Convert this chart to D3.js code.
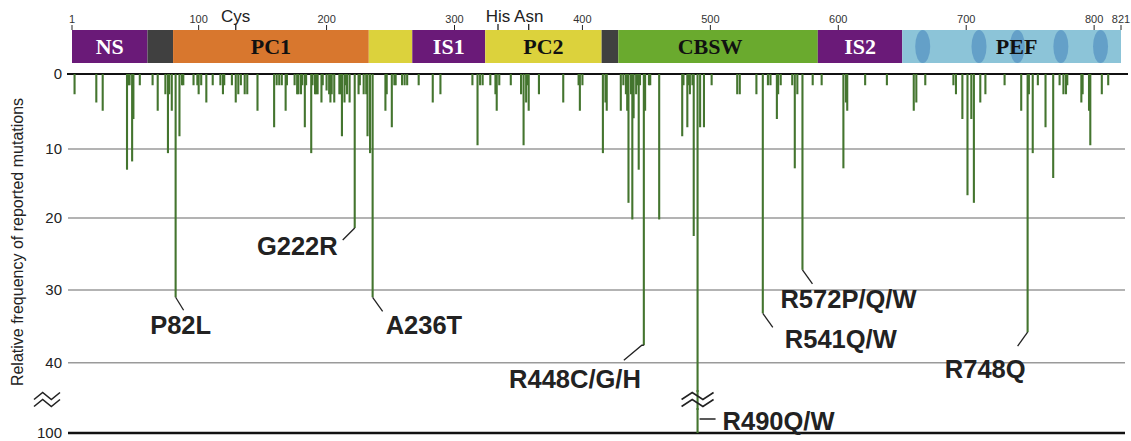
<!DOCTYPE html>
<html><head><meta charset="utf-8">
<script src="https://cdn.jsdelivr.net/npm/d3@7"></script>
<style>body{margin:0;background:#fff}svg{display:block}</style>
</head><body>
<svg id="c" width="1131" height="441"></svg>
<script>
// ---------- data ----------
const domainNames  = ["NS","","PC1","","IS1","PC2","","CBSW","IS2","PEF"];
const domainStart  = [1, 60, 80, 233, 267, 324, 415, 428, 584, 650];
const domainEnd    = [60, 80, 233, 267, 324, 415, 428, 584, 650, 821];
const domainKinds  = ["purple","gray","orange","yellow","purple","yellow","gray","green","purple","blue"];
const efHands      = [666, 710, 740, 774, 805];
const residueTicks = [1,100,200,300,400,500,600,700,800,821];
const siteNames    = ["Cys","His","Asn"];
const sitePos      = [129, 334, 358];
const yTickLabels  = [0,10,20,30,40,100];

const mutPos = [3,20,25,44,45,46,48,49,54,64,68,74,76,77,79,82,85,87,88,96,99,100,102,106,111,117,119,120,126,129,131,133,136,138,146,159,161,163,165,168,169,175,177,178,180,181,183,184,188,189,191,192,193,196,197,200,
  202,203,204,206,210,211,212,214,215,216,218,222,225,226,229,231,232,234,236,
  246,247,251,253,254,259,261,263,272,283,289,314,318,320,322,328,332,333,335,344,352,354,356,357,358,366,385,397,398,400,
  416,418,419,430,432,434,435,436,438,439,440,442,443,444,445,448,449,452,453,460,
  478,479,482,483,484,486,487,490,492,495,501,521,523,536,541,545,547,552,553,555,564,566,568,572,580,587,604,606,607,
  621,638,659,661,668,690,692,697,701,704,706,711,715,730,743,748,749,752,756,762,768,773,776,778,779,790,791,796,797,806,811];
const mutVal = [2.7,3.8,4.9,13.0,1.5,1.5,11.8,6.0,1.5,1.5,4.9,2.7,10.6,2.7,4.9,31,8.3,1.5,1.5,1.5,1.5,2.7,1.5,3.8,1.5,1.5,2.7,1.5,1.5,3.8,2.7,1.5,2.7,2.7,4.9,7.1,1.5,1.5,1.5,4.9,1.5,1.5,2.7,2.7,2.7,1.5,7.1,1.5,10.6,1.5,2.7,2.7,2.7,3.8,1.5,2.2,
  2.7,3.8,2.7,3.8,2.7,2.7,8.3,3.8,1.5,2.7,3.8,21.4,2.7,1.5,2.7,2.7,8.3,10.6,31,
  4.9,2.7,7.1,1.5,1.5,1.5,1.5,1.5,1.5,3.8,2.7,1.5,9.5,1.5,1.5,1.5,2.7,4.9,1.5,1.5,2.7,9.5,3.8,1.5,4.9,2.7,3.8,1.5,4.9,1.5,
  10.6,3.8,4.9,4.9,1.5,2.7,4.9,17.8,2.7,20.2,5.9,2.7,1.5,13.0,1.5,37.6,4.9,1.5,1.5,20.2,
  8.3,1.5,7.1,1.5,2.7,1.5,22.5,100,7.1,7.1,1.5,2.7,2.7,2.7,33.2,1.5,1.5,6.0,2.7,1.5,1.5,12.8,2.7,27.2,1.5,1.5,12.8,3.8,4.9,
  1.5,1.5,4.9,3.8,1.5,1.5,2.7,6.0,16.7,6.0,17.8,3.8,2.7,1.5,4.9,35.8,2.7,10.6,1.5,7.1,14.2,1.5,2.7,2.7,1.5,3.8,2.7,4.9,9.5,2.7,1.5];

const annoLabels = ["P82L","G222R","A236T","R448C/G/H","R490Q/W","R541Q/W","R572P/Q/W","R748Q"];
const annoPos    = [82,222,236,448,490,541,572,748];
const annoVal    = [31,21.4,31,37.6,100,33.2,27.2,35.8];

// ---------- layout / style (not data) ----------
const colors = {purple:"#6a1a78", gray:"#404040", orange:"#d8772e", yellow:"#dcd23c", green:"#6aaa2e", blue:"#8cc4d8"};
const labelColor = {NS:"#fff", IS1:"#fff", IS2:"#fff", PC1:"#111", PC2:"#111", CBSW:"#111", PEF:"#111"};
const labelDx = {CBSW:-8, PEF:5};
const annoLayout = [
  {leader:[[8,13]], lab:[5,37], anchor:"middle"},
  {leader:[[-12,12]], lab:[-17,27], anchor:"end"},
  {leader:[[10,14]], lab:[13,37], anchor:"start"},
  {leader:[[-2,0],[-20,15]], lab:[-3,43], anchor:"end"},
  {leader:null, lab:[25,-3], anchor:"start"},
  {leader:[[10,14]], lab:[22,35], anchor:"start"},
  {leader:[[10,14]], lab:[-22,38], anchor:"start"},
  {leader:[[-10,14]], lab:[-2,46], anchor:"end"}
];

const svg = d3.select("#c");
const x = d3.scaleLinear().domain([1,821]).range([72,1121]);
const y = d3.scaleLinear().domain([0,10,20,30,40,100]).range([74,149,218,290,362.7,433]);
const barTop = 30, barH = 33;

// domain bar
svg.append("g").selectAll("rect").data(domainStart).join("rect")
  .attr("x", (d)=>x(d)).attr("y", barTop)
  .attr("width", (d,i)=>x(domainEnd[i])-x(d)).attr("height", barH)
  .attr("fill", (d,i)=>colors[domainKinds[i]]);
svg.append("g").selectAll("ellipse").data(efHands).join("ellipse")
  .attr("cx", d=>x(d)).attr("cy", barTop+barH/2).attr("rx", 7.5).attr("ry", barH/2)
  .attr("fill", "#5d9ac6").attr("opacity", 0.85);
svg.append("g").selectAll("text").data(domainNames).join("text")
  .filter(d=>d!=="")
  .attr("x", function(d){const i=domainNames.indexOf(d);return (x(domainStart[i])+x(domainEnd[i]))/2+(labelDx[d]||0);})
  .attr("y", barTop+barH/2+7.5)
  .attr("text-anchor","middle")
  .attr("font-family","'Liberation Serif','Times New Roman',serif")
  .attr("font-weight","bold").attr("font-size",22)
  .attr("fill", d=>labelColor[d]).text(d=>d);

// residue ticks
const gt = svg.append("g");
gt.selectAll("line.rt").data(residueTicks).join("line").attr("class","rt")
  .attr("x1",d=>x(d)).attr("x2",d=>x(d)).attr("y1",barTop-5).attr("y2",barTop)
  .attr("stroke","#222").attr("stroke-width",1);
gt.selectAll("text.rt").data(residueTicks).join("text").attr("class","rt")
  .attr("x",d=>x(d)).attr("y",barTop-7)
  .attr("text-anchor","middle").attr("font-family","'Liberation Sans',Arial,sans-serif")
  .attr("font-size",11).attr("fill","#333")
  .text(d=>d);
gt.selectAll("line.st").data(sitePos).join("line").attr("class","st")
  .attr("x1",d=>x(d)).attr("x2",d=>x(d)).attr("y1",barTop-6).attr("y2",barTop)
  .attr("stroke","#222").attr("stroke-width",1.3);
gt.selectAll("text.st").data(siteNames).join("text").attr("class","st")
  .attr("x",(d,i)=>x(sitePos[i])).attr("y",barTop-8)
  .attr("text-anchor","middle").attr("font-family","'Liberation Sans',Arial,sans-serif")
  .attr("font-size",17).attr("fill","#222").text(d=>d);

// gridlines & y labels
const gy = svg.append("g");
gy.selectAll("line").data(yTickLabels).join("line")
  .attr("x1",d=>d===0?67:68).attr("x2",d=>d===0?1128:1125)
  .attr("y1",d=>y(d)).attr("y2",d=>y(d))
  .attr("stroke",d=>(d===0||d===100)?"#111":"#9a9a9a")
  .attr("stroke-width",d=>d===100?2.5:(d===0?2:1.6));
gy.selectAll("text").data(yTickLabels).join("text")
  .attr("x",62).attr("y",d=>y(d)+5)
  .attr("text-anchor","end").attr("font-family","'Liberation Sans',Arial,sans-serif")
  .attr("font-size",15).attr("fill","#222").text(d=>d);
svg.append("text")
  .attr("transform","translate(23,242) rotate(-90)")
  .attr("text-anchor","middle").attr("font-family","'Liberation Sans',Arial,sans-serif")
  .attr("font-size",16).attr("fill","#222")
  .text("Relative frequency of reported mutations");

// bars
svg.append("g").selectAll("line").data(mutPos).join("line")
  .attr("x1",d=>x(d)).attr("x2",d=>x(d))
  .attr("y1",y(0)).attr("y2",(d,i)=>y(mutVal[i]))
  .attr("stroke","#44752f").attr("stroke-width",2.1);

// break symbols
function brk(cx, cy, w){
  const g = svg.append("g");
  [-3.5,3.5].forEach(o=>{
    g.append("path")
      .attr("d",`M${cx-w/2},${cy+o+3} L${cx-w/6},${cy+o-4} L${cx+w/6},${cy+o+3} L${cx+w/2},${cy+o-4}`)
      .attr("fill","none").attr("stroke","#222").attr("stroke-width",1.6);
  });
  return g;
}
brk(47, 400, 26);
const bx = x(annoPos[4]);
svg.append("rect").attr("x",bx-16).attr("y",392).attr("width",32).attr("height",16).attr("fill","#fff");
svg.append("line").attr("x1",bx).attr("x2",bx).attr("y1",390).attr("y2",410).attr("stroke","#44752f").attr("stroke-width",2.1);
brk(bx, 400, 32);

// annotations
const ga = svg.append("g");
annoLabels.forEach((lab,i)=>{
  const bx0 = x(annoPos[i]), by0 = y(annoVal[i]);
  const L = annoLayout[i];
  if(L.leader){
    let pts = [[bx0,by0]].concat(L.leader.map(p=>[bx0+p[0],by0+p[1]]));
    ga.append("path").attr("d",d3.line()(pts)).attr("fill","none").attr("stroke","#222").attr("stroke-width",1.3);
  } else {
    ga.append("line").attr("x1",bx0+2).attr("x2",bx0+18).attr("y1",419).attr("y2",419).attr("stroke","#222").attr("stroke-width",1.5);
  }
  ga.append("text")
    .attr("x", bx0+L.lab[0])
    .attr("y", L.leader? by0+L.lab[1] : 430)
    .attr("text-anchor",L.anchor)
    .attr("font-family","'Liberation Sans',Arial,sans-serif")
    .attr("font-weight","bold").attr("font-size",25.5).attr("fill","#222").text(lab);
});
</script>
</body></html>
